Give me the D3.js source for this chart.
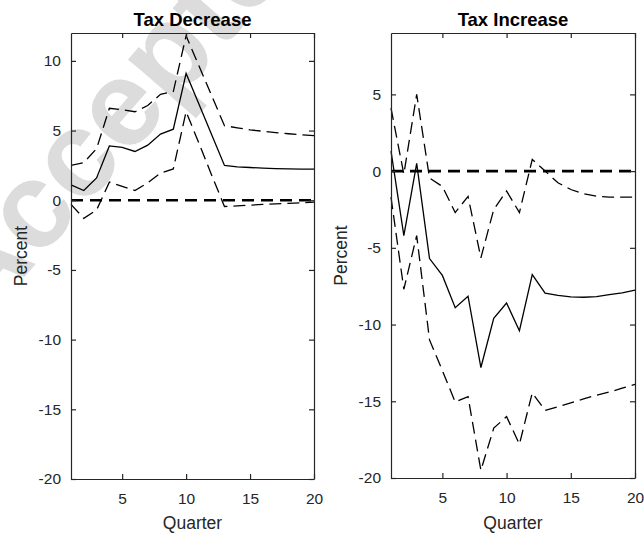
<!DOCTYPE html>
<html>
<head>
<meta charset="utf-8">
<script src="https://cdn.jsdelivr.net/npm/d3@7"></script>
<style>
  body { margin: 0; background: #fff; }
  svg { font-family: "Liberation Sans", Arial, sans-serif; }
</style>
</head>
<body>
<div id="chart"></div>
<script>
// Data
const quarters = [1, 2, 3, 4, 5, 6, 7, 8, 9, 10, 11, 12, 13, 14, 15, 16, 17, 18, 19, 20];
const xTicks = [5, 10, 15, 20];

const decreaseMid = [1.1, 0.7, 1.6, 3.9, 3.8, 3.5, 3.95, 4.75, 5.1, 9.1, 6.9, 4.7, 2.5, 2.4, 2.35, 2.3, 2.27, 2.25, 2.24, 2.23];
const decreaseUpper = [2.5, 2.7, 3.7, 6.6, 6.5, 6.35, 6.8, 7.6, 7.8, 11.8, 9.65, 7.5, 5.35, 5.2, 5.05, 4.95, 4.85, 4.77, 4.7, 4.64];
const decreaseLower = [-0.3, -1.3, -0.7, 1.3, 1.0, 0.7, 1.25, 1.95, 2.25, 6.35, 4.1, 1.8, -0.45, -0.4, -0.35, -0.3, -0.26, -0.22, -0.18, -0.14];
const decreaseYTicks = [-20, -15, -10, -5, 0, 5, 10];

const increaseMid = [1.3, -4.2, 0.5, -5.7, -6.8, -8.9, -8.15, -12.8, -9.6, -8.6, -10.4, -6.75, -7.95, -8.1, -8.2, -8.22, -8.18, -8.05, -7.94, -7.76];
const increaseUpper = [4.1, -0.2, 5.0, -0.45, -1.0, -2.7, -1.65, -5.65, -2.5, -1.3, -2.7, 0.76, 0.0, -0.76, -1.2, -1.48, -1.63, -1.7, -1.7, -1.7];
const increaseLower = [-1.7, -7.7, -4.2, -11.0, -13.0, -15.05, -14.7, -19.5, -16.75, -16.0, -17.8, -14.45, -15.6, -15.35, -15.1, -14.85, -14.6, -14.4, -14.15, -13.9];
const increaseYTicks = [-20, -15, -10, -5, 0, 5];

const width = 644, height = 533;
const axisColor = "#262626";

const svg = d3.select("#chart").append("svg")
  .attr("width", width)
  .attr("height", height);

// watermark behind everything
svg.append("text")
  .attr("transform", "translate(-20,328) rotate(-49)")
  .attr("font-size", 122)
  .attr("font-weight", "bold")
  .attr("fill", "#dcdcdc")
  .text("Accepted");

const panels = [
  { title: "Tax Decrease", mid: decreaseMid, upper: decreaseUpper, lower: decreaseLower,
    yDomain: [-20, 12], yTicks: decreaseYTicks, left: 71, right: 314, top: 33, bottom: 479 },
  { title: "Tax Increase", mid: increaseMid, upper: increaseUpper, lower: increaseLower,
    yDomain: [-20, 9], yTicks: increaseYTicks, left: 391, right: 635, top: 33, bottom: 478 }
];

// plain hyphen minus like the original figure
const fmt = d => String(d);

panels.forEach(p => {
  const x = d3.scaleLinear().domain([1, 20]).range([p.left, p.right]);
  const y = d3.scaleLinear().domain(p.yDomain).range([p.bottom, p.top]);
  const g = svg.append("g");

  const line = d3.line()
    .x((d, i) => x(quarters[i]))
    .y(d => y(d));

  // zero reference line
  g.append("path")
    .datum(quarters.map(() => 0))
    .attr("d", line)
    .attr("fill", "none")
    .attr("stroke", "#000")
    .attr("stroke-width", 2.6)
    .attr("stroke-dasharray", "12,7");

  [p.upper, p.lower].forEach(s => {
    g.append("path")
      .datum(s)
      .attr("d", line)
      .attr("fill", "none")
      .attr("stroke", "#000")
      .attr("stroke-width", 1.3)
      .attr("stroke-dasharray", "12,6");
  });

  g.append("path")
    .datum(p.mid)
    .attr("d", line)
    .attr("fill", "none")
    .attr("stroke", "#000")
    .attr("stroke-width", 1.3);

  // axes box with inward ticks on all sides
  const tick = 5;
  const bottomAxis = g.append("g")
    .attr("transform", `translate(0,${p.bottom})`)
    .call(d3.axisBottom(x).tickValues(xTicks).tickSize(-tick).tickSizeOuter(0).tickFormat(fmt));
  bottomAxis.selectAll("text").attr("y", 25).attr("dy", null);

  g.append("g")
    .attr("transform", `translate(0,${p.top})`)
    .call(d3.axisTop(x).tickValues(xTicks).tickSize(-tick).tickSizeOuter(0).tickFormat(""));

  const leftAxis = g.append("g")
    .attr("transform", `translate(${p.left},0)`)
    .call(d3.axisLeft(y).tickValues(p.yTicks).tickSize(-tick).tickSizeOuter(0).tickFormat(fmt));
  leftAxis.selectAll("text").attr("x", -10);

  g.append("g")
    .attr("transform", `translate(${p.right},0)`)
    .call(d3.axisRight(y).tickValues(p.yTicks).tickSize(-tick).tickSizeOuter(0).tickFormat(""));

  g.selectAll(".domain, .tick line")
    .attr("stroke", axisColor)
    .attr("stroke-width", 1.2);
  g.selectAll(".tick text")
    .attr("fill", axisColor)
    .attr("font-size", 15.5)
    .attr("font-family", "Liberation Sans, Arial, sans-serif");

  // titles and labels
  g.append("text")
    .attr("x", (p.left + p.right) / 2)
    .attr("y", 26)
    .attr("text-anchor", "middle")
    .attr("font-size", 18.5)
    .attr("font-weight", "bold")
    .attr("fill", "#000")
    .text(p.title);

  g.append("text")
    .attr("x", (p.left + p.right) / 2)
    .attr("y", 529)
    .attr("text-anchor", "middle")
    .attr("font-size", 17.5)
    .attr("fill", axisColor)
    .text("Quarter");

  g.append("text")
    .attr("transform", `translate(${p.left - 44},${(p.top + p.bottom) / 2}) rotate(-90)`)
    .attr("text-anchor", "middle")
    .attr("font-size", 17.5)
    .attr("fill", axisColor)
    .text("Percent");
});
</script>
</body>
</html>
